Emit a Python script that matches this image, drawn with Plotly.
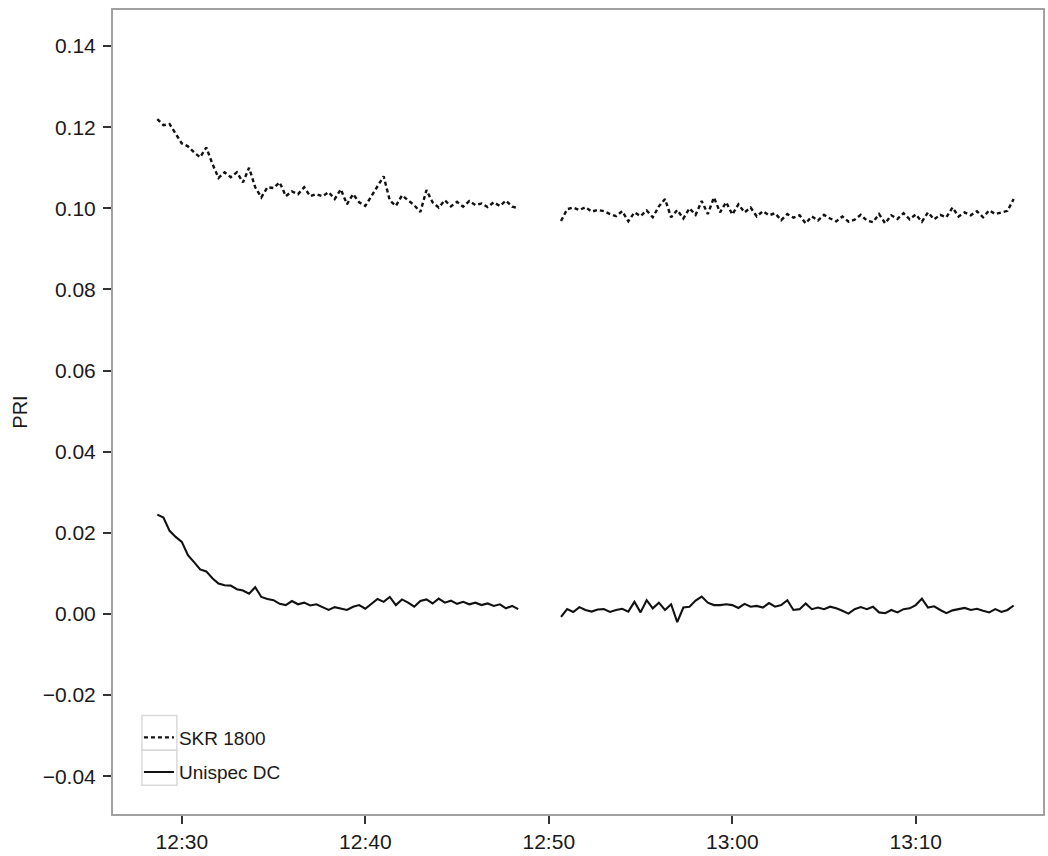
import pandas as pd
import plotly.graph_objects as go

# ---- data (PRI values) ----
day = "2012-07-10"
seg1_start = day + " 12:28:40"
seg2_start = day + " 12:50:40"
sample_step = "20s"

skr_seg1 = [122.0, 120.5, 120.8, 118.5, 116.0, 115.3, 113.8, 112.6, 115.0, 111.0,
            107.5, 108.9, 107.7, 108.9, 106.4, 110.0, 105.2, 102.7, 105.2, 105.0,
            106.4, 103.0, 104.2, 103.5, 105.2, 103.0, 103.5, 103.0, 104.0, 102.3,
            104.7, 101.0, 103.5, 101.5, 100.6, 103.0, 105.5, 107.9, 102.0, 100.6,
            103.2, 102.0, 100.8, 99.1, 104.5, 101.5, 100.2, 102.0, 100.5, 101.6,
            100.4, 101.8, 100.8, 101.2, 100.3, 101.5, 100.6, 101.9, 100.4, 100.1]
skr_seg2 = [96.9, 99.8, 100.2, 99.6, 100.3, 99.2, 99.6, 99.3, 98.6, 98.1,
            99.3, 96.8, 99.0, 98.1, 99.5, 97.8, 100.5, 102.3, 97.8, 99.6,
            97.5, 100.0, 98.4, 101.8, 98.6, 102.7, 99.0, 101.5, 98.5, 101.0,
            99.0, 100.2, 98.0, 99.3, 98.3, 98.8, 97.1, 98.6, 97.7, 98.3,
            96.3, 98.0, 97.0, 98.4, 97.5, 96.8, 98.0, 96.7, 97.2, 98.4,
            97.0, 96.6, 98.6, 96.3, 98.3, 97.4, 98.8, 97.3, 98.5, 96.7,
            99.0, 97.3, 98.4, 97.8, 100.2, 98.0, 99.0, 98.3, 99.3, 97.8,
            99.5, 98.6, 99.0, 99.4, 102.3]
uni_seg1 = [24.5, 23.8, 20.5, 19.0, 17.8, 14.5, 12.8, 11.0, 10.5, 8.8,
            7.5, 7.1, 7.0, 6.1, 5.8, 5.0, 6.6, 4.2, 3.7, 3.4,
            2.5, 2.2, 3.2, 2.4, 2.8, 2.1, 2.4, 1.6, 1.0, 1.7,
            1.4, 1.0, 1.8, 2.2, 1.3, 2.4, 3.7, 3.0, 4.2, 2.2,
            3.6, 2.8, 1.8, 3.2, 3.6, 2.6, 3.8, 2.8, 3.3, 2.5,
            3.0, 2.4, 2.8, 2.2, 2.6, 2.0, 2.4, 1.4, 2.0, 1.2]
uni_seg2 = [-0.7, 1.2, 0.5, 1.7, 1.0, 0.6, 1.1, 1.2, 0.5, 1.0,
            1.3, 0.6, 3.0, 0.4, 3.4, 1.4, 2.8, 1.0, 2.4, -2.0,
            1.6, 1.8, 3.3, 4.3, 2.8, 2.2, 2.2, 2.4, 2.2, 1.5,
            2.5, 1.8, 2.0, 1.6, 2.7, 1.8, 2.2, 3.4, 1.0, 1.2,
            2.6, 1.2, 1.6, 1.2, 1.8, 1.4, 0.8, 0.1, 1.2, 1.7,
            1.2, 1.8, 0.4, 0.2, 1.0, 0.4, 1.2, 1.4, 2.2, 3.8,
            1.6, 1.9, 1.0, 0.2, 0.9, 1.2, 1.5, 1.0, 1.3, 0.8,
            0.4, 1.2, 0.5, 1.0, 2.1]
scale = 0.001  # values above are PRI x 1000

series_names = ["SKR 1800", "Unispec DC"]
y_ticks = [-0.04, -0.02, 0.00, 0.02, 0.04, 0.06, 0.08, 0.10, 0.12, 0.14]
x_tick_start = day + " 12:30"
x_range = [day + " 12:26:15", day + " 13:16:56"]
y_range = [-0.0493, 0.1489]

# ---- build series with a gap between the two measurement runs ----
t1 = pd.date_range(seg1_start, periods=len(skr_seg1), freq=sample_step)
t2 = pd.date_range(seg2_start, periods=len(skr_seg2), freq=sample_step)
gap_t = t1[-1] + (t2[0] - t1[-1]) / 2
times = list(t1) + [gap_t] + list(t2)


def join(a, b):
    return [v * scale for v in a] + [None] + [v * scale for v in b]


skr = join(skr_seg1, skr_seg2)
uni = join(uni_seg1, uni_seg2)

font_family = "Liberation Sans, Arial, Helvetica, sans-serif"
fig = go.Figure()
fig.add_trace(go.Scatter(x=times, y=skr, mode="lines", name=series_names[0],
                         legendgroup="a",
                         line=dict(color="#111111", width=2.4, dash="4px,3px")))
fig.add_trace(go.Scatter(x=times, y=uni, mode="lines", name=series_names[1],
                         legendgroup="b",
                         line=dict(color="#111111", width=2.1)))

# legend key boxes (ggplot-style)
W, H = 932.0, 808.0
def px(xp):
    return (xp - 113) / W
def py(yp):
    return (818 - yp) / H
shapes = []
for top, bot in [(719, 754), (754, 789)]:
    shapes.append(dict(type="rect", xref="paper", yref="paper",
                       x0=px(142), x1=px(177), y0=py(bot), y1=py(top),
                       line=dict(color="#d9d9d9", width=1.5), fillcolor="rgba(0,0,0,0)",
                       layer="below"))

fig.update_layout(
    width=1048, height=856,
    margin=dict(l=113, r=3, t=10, b=38),
    paper_bgcolor="white", plot_bgcolor="white",
    font=dict(family=font_family, color="#1a1a1a"),
    showlegend=True,
    legend=dict(x=px(139), y=py(722), xanchor="left", yanchor="top",
                bgcolor="rgba(0,0,0,0)", font=dict(size=19, color="#1a1a1a"),
                tracegroupgap=7, traceorder="grouped", itemwidth=30),
    shapes=shapes,
    xaxis=dict(type="date", range=x_range, tick0=x_tick_start, dtick=600000,
               tickformat="%H:%M", showgrid=False, zeroline=False,
               showline=True, mirror=True, linecolor="#a0a0a0", linewidth=2,
               ticks="outside", ticklen=8, tickwidth=2, tickcolor="#333333",
               tickfont=dict(size=21, color="#1a1a1a")),
    yaxis=dict(range=y_range, tickmode="array", tickvals=y_ticks, tickformat=".2f",
               showgrid=False, zeroline=False,
               showline=True, mirror=True, linecolor="#a0a0a0", linewidth=2,
               ticks="outside", ticklen=8, tickwidth=2, tickcolor="#333333",
               ticklabelstandoff=3,
               tickfont=dict(size=21, color="#1a1a1a"),
               title=dict(text="PRI", font=dict(size=20, color="#1a1a1a"), standoff=10)),
)

fig.write_html("out.html")
